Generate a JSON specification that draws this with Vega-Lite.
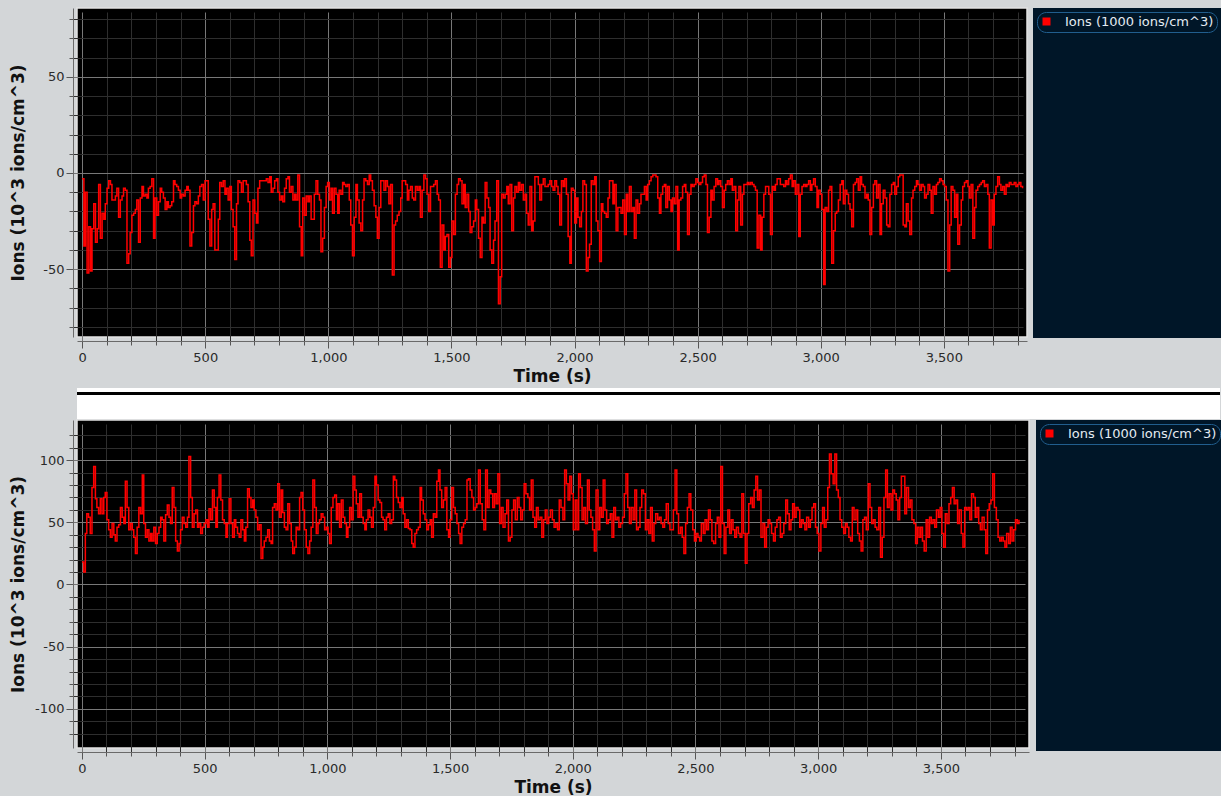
{
"$schema": "https://vega.github.io/schema/vega-lite/v6.json",
"background": "#d3d6d8",
"padding": {"left": 8, "top": 7, "right": 0, "bottom": 0},
"spacing": 0,
"resolve": {"scale": {"color": "independent"}, "legend": {"color": "independent"}},
"config": {
"view": {"stroke": null},
"axis": {"labelFont": "DejaVu Sans", "labelFontSize": 13, "labelColor": "#2a2a2a", "titleFont": "DejaVu Sans", "titleFontSize": 17, "titleFontWeight": "bold", "titleColor": "#111111", "domainColor": "#6a6a6a", "tickColor": "#555555", "offset": 4, "labelPadding": 2, "gridWidth": 1, "labelOverlap": false, "labelFlush": false, "labelBound": false},
"legend": {"title": null, "orient": "top-left", "offset": 4, "padding": 3, "symbolType": "square", "symbolSize": 64, "symbolFillColor": "#ff0000", "symbolStrokeWidth": 0, "symbolOpacity": 1, "labelColor": "#e4ebf2", "labelFont": "DejaVu Sans", "labelFontSize": 13, "labelOffset": 12, "labelLimit": 400, "strokeColor": "#215e8e", "cornerRadius": 9}
},
"datasets": {
"leg": [{"s": "Ions (1000 ions/cm^3)"}],
"top": [
{"t":0,"v":-3},{"t":7,"v":-38},{"t":13,"v":-10},{"t":20,"v":-52},{"t":27,"v":-28},{"t":34,"v":-51},{"t":40,"v":-29},{"t":47,"v":-16},{"t":54,"v":-36},{"t":61,"v":-29},{"t":67,"v":-6},{"t":74,"v":-34},{"t":81,"v":-21},{"t":88,"v":-24},{"t":94,"v":-16},{"t":101,"v":-8},{"t":108,"v":-4},{"t":115,"v":-6},{"t":121,"v":-14},{"t":128,"v":-14},{"t":135,"v":-12},{"t":141,"v":-8},{"t":148,"v":-23},{"t":155,"v":-14},{"t":162,"v":-12},{"t":168,"v":-8},{"t":175,"v":-9},{"t":182,"v":-47},{"t":189,"v":-42},{"t":195,"v":-31},{"t":202,"v":-22},{"t":209,"v":-21},{"t":216,"v":-19},{"t":222,"v":-14},{"t":229,"v":-36},{"t":236,"v":-13},{"t":243,"v":-7},{"t":249,"v":-12},{"t":256,"v":-11},{"t":263,"v":-13},{"t":269,"v":-8},{"t":276,"v":-7},{"t":283,"v":-3},{"t":290,"v":-34},{"t":296,"v":-13},{"t":303,"v":-22},{"t":310,"v":-15},{"t":317,"v":-8},{"t":323,"v":-10},{"t":330,"v":-13},
{"t":337,"v":-19},{"t":344,"v":-15},{"t":350,"v":-18},{"t":357,"v":-17},{"t":364,"v":-15},{"t":371,"v":-4},{"t":377,"v":-6},{"t":384,"v":-7},{"t":391,"v":-9},{"t":398,"v":-13},{"t":404,"v":-11},{"t":411,"v":-12},{"t":418,"v":-9},{"t":425,"v":-7},{"t":431,"v":-9},{"t":438,"v":-38},{"t":445,"v":-31},{"t":452,"v":-17},{"t":458,"v":-15},{"t":465,"v":-16},{"t":472,"v":-12},{"t":478,"v":-7},{"t":485,"v":-6},{"t":492,"v":-14},{"t":499,"v":-4},{"t":505,"v":-4},{"t":512,"v":-24},{"t":519,"v":-38},{"t":526,"v":-19},{"t":532,"v":-16},{"t":539,"v":-40},{"t":546,"v":-40},{"t":553,"v":-24},{"t":559,"v":-5},{"t":566,"v":-7},{"t":573,"v":-4},{"t":580,"v":-11},{"t":586,"v":-8},{"t":593,"v":-14},{"t":600,"v":-7},{"t":606,"v":-19},{"t":613,"v":-28},{"t":620,"v":-45},{"t":627,"v":-16},{"t":633,"v":-4},{"t":640,"v":-5},{"t":647,"v":-10},{"t":654,"v":-4},{"t":660,"v":-4},{"t":667,"v":-6},
{"t":674,"v":-15},{"t":681,"v":-35},{"t":687,"v":-43},{"t":694,"v":-14},{"t":701,"v":-21},{"t":708,"v":-26},{"t":714,"v":-8},{"t":721,"v":-4},{"t":728,"v":-4},{"t":735,"v":-4},{"t":741,"v":-4},{"t":748,"v":-3},{"t":755,"v":-5},{"t":762,"v":-2},{"t":768,"v":-10},{"t":775,"v":-8},{"t":782,"v":-4},{"t":789,"v":-3},{"t":795,"v":-10},{"t":802,"v":-14},{"t":809,"v":-12},{"t":815,"v":-15},{"t":822,"v":-8},{"t":829,"v":-3},{"t":836,"v":-2},{"t":842,"v":-10},{"t":849,"v":-7},{"t":856,"v":-14},{"t":863,"v":-11},{"t":869,"v":-14},{"t":876,"v":-1},{"t":883,"v":-28},{"t":890,"v":-43},{"t":896,"v":-13},{"t":903,"v":-22},{"t":910,"v":-12},{"t":917,"v":-15},{"t":923,"v":-12},{"t":930,"v":-24},{"t":937,"v":-24},{"t":943,"v":-11},{"t":950,"v":-4},{"t":957,"v":-11},{"t":964,"v":-14},{"t":970,"v":-41},{"t":977,"v":-34},{"t":984,"v":-18},{"t":991,"v":-7},{"t":997,"v":-5},{"t":1004,"v":-14},
{"t":1011,"v":-8},{"t":1017,"v":-21},{"t":1024,"v":-8},{"t":1031,"v":-11},{"t":1038,"v":-21},{"t":1044,"v":-9},{"t":1051,"v":-11},{"t":1058,"v":-5},{"t":1064,"v":-6},{"t":1071,"v":-7},{"t":1078,"v":-6},{"t":1085,"v":-14},{"t":1091,"v":-27},{"t":1098,"v":-43},{"t":1105,"v":-23},{"t":1112,"v":-6},{"t":1118,"v":-14},{"t":1125,"v":-26},{"t":1132,"v":-30},{"t":1139,"v":-14},{"t":1145,"v":-3},{"t":1152,"v":-4},{"t":1159,"v":-6},{"t":1166,"v":-1},{"t":1172,"v":-4},{"t":1179,"v":-9},{"t":1186,"v":-17},{"t":1193,"v":-23},{"t":1199,"v":-34},{"t":1206,"v":-18},{"t":1213,"v":-4},{"t":1220,"v":-4},{"t":1226,"v":-9},{"t":1233,"v":-4},{"t":1240,"v":-7},{"t":1246,"v":-16},{"t":1253,"v":-6},{"t":1260,"v":-53},{"t":1267,"v":-27},{"t":1273,"v":-25},{"t":1280,"v":-22},{"t":1287,"v":-20},{"t":1294,"v":-13},{"t":1300,"v":-4},{"t":1307,"v":-4},{"t":1314,"v":-6},{"t":1321,"v":-14},{"t":1327,"v":-9},{"t":1334,"v":-7},{"t":1341,"v":-13},
{"t":1347,"v":-14},{"t":1354,"v":-7},{"t":1361,"v":-9},{"t":1368,"v":-7},{"t":1374,"v":-23},{"t":1381,"v":-9},{"t":1388,"v":-1},{"t":1395,"v":-3},{"t":1401,"v":-11},{"t":1408,"v":-20},{"t":1415,"v":-7},{"t":1421,"v":-7},{"t":1428,"v":-6},{"t":1435,"v":-4},{"t":1442,"v":-11},{"t":1448,"v":-14},{"t":1455,"v":-49},{"t":1462,"v":-27},{"t":1469,"v":-40},{"t":1475,"v":-33},{"t":1482,"v":-32},{"t":1489,"v":-49},{"t":1496,"v":-44},{"t":1502,"v":-25},{"t":1509,"v":-32},{"t":1516,"v":-11},{"t":1523,"v":-6},{"t":1529,"v":-3},{"t":1536,"v":-4},{"t":1543,"v":-16},{"t":1550,"v":-6},{"t":1556,"v":-18},{"t":1563,"v":-11},{"t":1570,"v":-20},{"t":1576,"v":-31},{"t":1583,"v":-28},{"t":1590,"v":-25},{"t":1597,"v":-14},{"t":1603,"v":-19},{"t":1610,"v":-34},{"t":1617,"v":-44},{"t":1624,"v":-23},{"t":1630,"v":-26},{"t":1637,"v":-5},{"t":1644,"v":-13},{"t":1651,"v":-18},{"t":1657,"v":-40},{"t":1664,"v":-47},{"t":1671,"v":-35},{"t":1677,"v":-25},
{"t":1684,"v":-4},{"t":1691,"v":-68},{"t":1698,"v":-54},{"t":1704,"v":-11},{"t":1711,"v":-13},{"t":1718,"v":-11},{"t":1725,"v":-7},{"t":1731,"v":-16},{"t":1738,"v":-6},{"t":1745,"v":-30},{"t":1752,"v":-13},{"t":1758,"v":-7},{"t":1765,"v":-10},{"t":1772,"v":-5},{"t":1778,"v":-9},{"t":1785,"v":-6},{"t":1792,"v":-14},{"t":1799,"v":-11},{"t":1805,"v":-21},{"t":1812,"v":-27},{"t":1819,"v":-7},{"t":1826,"v":-30},{"t":1832,"v":-25},{"t":1839,"v":-2},{"t":1846,"v":-2},{"t":1853,"v":-6},{"t":1859,"v":-14},{"t":1866,"v":-6},{"t":1873,"v":-3},{"t":1880,"v":-7},{"t":1886,"v":-7},{"t":1893,"v":-6},{"t":1900,"v":-4},{"t":1907,"v":-7},{"t":1913,"v":-9},{"t":1920,"v":-4},{"t":1927,"v":-7},{"t":1933,"v":-11},{"t":1940,"v":-27},{"t":1947,"v":-4},{"t":1954,"v":-7},{"t":1960,"v":-3},{"t":1967,"v":-11},{"t":1974,"v":-33},{"t":1981,"v":-47},{"t":1987,"v":-8},{"t":1994,"v":-9},{"t":2001,"v":-26},{"t":2008,"v":-13},{"t":2014,"v":-23},
{"t":2021,"v":-28},{"t":2028,"v":-20},{"t":2034,"v":-4},{"t":2041,"v":-6},{"t":2048,"v":-51},{"t":2055,"v":-44},{"t":2061,"v":-37},{"t":2068,"v":-4},{"t":2075,"v":-6},{"t":2082,"v":-2},{"t":2088,"v":-25},{"t":2095,"v":-30},{"t":2102,"v":-46},{"t":2109,"v":-16},{"t":2115,"v":-20},{"t":2122,"v":-21},{"t":2129,"v":-23},{"t":2136,"v":-13},{"t":2142,"v":-4},{"t":2149,"v":-4},{"t":2156,"v":-16},{"t":2162,"v":-6},{"t":2169,"v":-30},{"t":2176,"v":-18},{"t":2183,"v":-18},{"t":2189,"v":-21},{"t":2196,"v":-14},{"t":2203,"v":-32},{"t":2210,"v":-11},{"t":2216,"v":-20},{"t":2223,"v":-7},{"t":2230,"v":-20},{"t":2237,"v":-18},{"t":2243,"v":-34},{"t":2250,"v":-14},{"t":2257,"v":-21},{"t":2264,"v":-16},{"t":2270,"v":-11},{"t":2277,"v":-11},{"t":2284,"v":-7},{"t":2291,"v":-14},{"t":2297,"v":-6},{"t":2304,"v":-4},{"t":2311,"v":-2},{"t":2318,"v":-1},{"t":2324,"v":-1},{"t":2331,"v":-2},{"t":2338,"v":-13},{"t":2345,"v":-21},{"t":2351,"v":-11},
{"t":2358,"v":-7},{"t":2365,"v":-6},{"t":2371,"v":-18},{"t":2378,"v":-7},{"t":2385,"v":-14},{"t":2392,"v":-20},{"t":2398,"v":-13},{"t":2405,"v":-16},{"t":2412,"v":-7},{"t":2419,"v":-40},{"t":2425,"v":-14},{"t":2432,"v":-13},{"t":2439,"v":-7},{"t":2446,"v":-6},{"t":2452,"v":-10},{"t":2459,"v":-32},{"t":2466,"v":-11},{"t":2473,"v":-6},{"t":2479,"v":-7},{"t":2486,"v":-6},{"t":2493,"v":-3},{"t":2500,"v":-5},{"t":2506,"v":-6},{"t":2513,"v":-5},{"t":2520,"v":-2},{"t":2527,"v":-1},{"t":2534,"v":-6},{"t":2540,"v":-31},{"t":2547,"v":-23},{"t":2554,"v":-9},{"t":2560,"v":-14},{"t":2567,"v":-7},{"t":2574,"v":-3},{"t":2581,"v":-6},{"t":2587,"v":-4},{"t":2594,"v":-7},{"t":2601,"v":-18},{"t":2608,"v":-9},{"t":2614,"v":-6},{"t":2621,"v":-4},{"t":2628,"v":-6},{"t":2635,"v":-3},{"t":2641,"v":-9},{"t":2648,"v":-7},{"t":2655,"v":-30},{"t":2662,"v":-14},{"t":2668,"v":-7},{"t":2675,"v":-27},{"t":2682,"v":-11},{"t":2688,"v":-6},
{"t":2695,"v":-6},{"t":2702,"v":-5},{"t":2708,"v":-6},{"t":2715,"v":-5},{"t":2722,"v":-6},{"t":2729,"v":-7},{"t":2735,"v":-9},{"t":2742,"v":-39},{"t":2749,"v":-22},{"t":2756,"v":-40},{"t":2762,"v":-23},{"t":2769,"v":-11},{"t":2776,"v":-7},{"t":2783,"v":-7},{"t":2789,"v":-11},{"t":2796,"v":-32},{"t":2803,"v":-7},{"t":2810,"v":-9},{"t":2816,"v":-6},{"t":2823,"v":-3},{"t":2830,"v":-3},{"t":2836,"v":-6},{"t":2843,"v":-6},{"t":2850,"v":-7},{"t":2857,"v":-4},{"t":2863,"v":-6},{"t":2870,"v":-3},{"t":2877,"v":-1},{"t":2884,"v":-7},{"t":2890,"v":-4},{"t":2897,"v":-11},{"t":2904,"v":-6},{"t":2911,"v":-33},{"t":2917,"v":-11},{"t":2924,"v":-7},{"t":2931,"v":-6},{"t":2938,"v":-7},{"t":2944,"v":-6},{"t":2951,"v":-4},{"t":2958,"v":-9},{"t":2964,"v":-6},{"t":2971,"v":-3},{"t":2978,"v":-7},{"t":2985,"v":-18},{"t":2991,"v":-9},{"t":2998,"v":-11},{"t":3005,"v":-19},{"t":3012,"v":-58},{"t":3018,"v":-18},{"t":3025,"v":-20},
{"t":3032,"v":-9},{"t":3038,"v":-7},{"t":3045,"v":-47},{"t":3052,"v":-30},{"t":3059,"v":-21},{"t":3065,"v":-20},{"t":3072,"v":-14},{"t":3079,"v":-6},{"t":3086,"v":-4},{"t":3092,"v":-16},{"t":3099,"v":-9},{"t":3106,"v":-11},{"t":3113,"v":-16},{"t":3119,"v":-19},{"t":3126,"v":-28},{"t":3133,"v":-6},{"t":3140,"v":-5},{"t":3146,"v":-3},{"t":3153,"v":-9},{"t":3160,"v":-2},{"t":3166,"v":-6},{"t":3173,"v":-7},{"t":3180,"v":-13},{"t":3187,"v":-11},{"t":3193,"v":-14},{"t":3200,"v":-32},{"t":3207,"v":-18},{"t":3214,"v":-6},{"t":3220,"v":-4},{"t":3227,"v":-13},{"t":3234,"v":-6},{"t":3241,"v":-32},{"t":3247,"v":-16},{"t":3254,"v":-9},{"t":3261,"v":-13},{"t":3268,"v":-27},{"t":3274,"v":-28},{"t":3281,"v":-11},{"t":3288,"v":-6},{"t":3295,"v":-5},{"t":3301,"v":-11},{"t":3308,"v":-7},{"t":3315,"v":-2},{"t":3321,"v":-1},{"t":3328,"v":-1},{"t":3335,"v":-27},{"t":3342,"v":-28},{"t":3348,"v":-16},{"t":3355,"v":-25},{"t":3362,"v":-32},
{"t":3369,"v":-13},{"t":3375,"v":-9},{"t":3382,"v":-7},{"t":3389,"v":-4},{"t":3395,"v":-6},{"t":3402,"v":-9},{"t":3409,"v":-6},{"t":3416,"v":-7},{"t":3422,"v":-13},{"t":3429,"v":-11},{"t":3436,"v":-6},{"t":3443,"v":-9},{"t":3449,"v":-21},{"t":3456,"v":-7},{"t":3463,"v":-11},{"t":3470,"v":-6},{"t":3476,"v":-5},{"t":3483,"v":-3},{"t":3490,"v":-4},{"t":3497,"v":-6},{"t":3503,"v":-7},{"t":3510,"v":-14},{"t":3517,"v":-51},{"t":3524,"v":-27},{"t":3530,"v":-7},{"t":3537,"v":-9},{"t":3544,"v":-23},{"t":3551,"v":-11},{"t":3557,"v":-37},{"t":3564,"v":-27},{"t":3571,"v":-14},{"t":3577,"v":-7},{"t":3584,"v":-5},{"t":3591,"v":-4},{"t":3598,"v":-7},{"t":3604,"v":-13},{"t":3611,"v":-6},{"t":3618,"v":-34},{"t":3625,"v":-18},{"t":3631,"v":-9},{"t":3638,"v":-7},{"t":3645,"v":-6},{"t":3652,"v":-5},{"t":3658,"v":-4},{"t":3665,"v":-7},{"t":3672,"v":-6},{"t":3679,"v":-11},{"t":3685,"v":-39},{"t":3692,"v":-14},{"t":3699,"v":-27},
{"t":3705,"v":-11},{"t":3712,"v":-7},{"t":3719,"v":-2},{"t":3726,"v":-6},{"t":3732,"v":-9},{"t":3739,"v":-7},{"t":3746,"v":-11},{"t":3753,"v":-6},{"t":3759,"v":-7},{"t":3766,"v":-5},{"t":3773,"v":-6},{"t":3779,"v":-6},{"t":3786,"v":-5},{"t":3793,"v":-7},{"t":3800,"v":-6},{"t":3806,"v":-5},{"t":3813,"v":-7},{"t":3820,"v":-8}
],
"bot": [
{"t":0,"v":18},{"t":7,"v":10},{"t":14,"v":41},{"t":20,"v":57},{"t":27,"v":54},{"t":34,"v":41},{"t":41,"v":78},{"t":48,"v":95},{"t":55,"v":69},{"t":61,"v":62},{"t":68,"v":57},{"t":75,"v":69},{"t":82,"v":57},{"t":89,"v":70},{"t":95,"v":74},{"t":102,"v":52},{"t":109,"v":44},{"t":116,"v":38},{"t":123,"v":49},{"t":130,"v":40},{"t":136,"v":35},{"t":143,"v":46},{"t":150,"v":48},{"t":157,"v":62},{"t":164,"v":54},{"t":171,"v":49},{"t":177,"v":83},{"t":184,"v":62},{"t":191,"v":44},{"t":198,"v":49},{"t":205,"v":44},{"t":211,"v":38},{"t":218,"v":25},{"t":225,"v":46},{"t":232,"v":62},{"t":239,"v":57},{"t":246,"v":88},{"t":252,"v":49},{"t":259,"v":38},{"t":266,"v":44},{"t":273,"v":35},{"t":280,"v":41},{"t":286,"v":35},{"t":293,"v":46},{"t":300,"v":33},{"t":307,"v":41},{"t":314,"v":46},{"t":321,"v":54},{"t":327,"v":52},{"t":334,"v":35},
{"t":341,"v":56},{"t":348,"v":64},{"t":355,"v":54},{"t":361,"v":49},{"t":368,"v":78},{"t":375,"v":62},{"t":382,"v":35},{"t":389,"v":27},{"t":396,"v":33},{"t":402,"v":44},{"t":409,"v":54},{"t":416,"v":49},{"t":423,"v":46},{"t":430,"v":54},{"t":436,"v":103},{"t":443,"v":70},{"t":450,"v":46},{"t":457,"v":57},{"t":464,"v":60},{"t":471,"v":46},{"t":477,"v":49},{"t":484,"v":41},{"t":491,"v":46},{"t":498,"v":49},{"t":505,"v":52},{"t":512,"v":46},{"t":518,"v":61},{"t":525,"v":52},{"t":532,"v":76},{"t":539,"v":62},{"t":546,"v":46},{"t":552,"v":70},{"t":559,"v":88},{"t":566,"v":68},{"t":573,"v":52},{"t":580,"v":49},{"t":587,"v":38},{"t":593,"v":49},{"t":600,"v":69},{"t":607,"v":49},{"t":614,"v":38},{"t":621,"v":52},{"t":627,"v":46},{"t":634,"v":41},{"t":641,"v":38},{"t":648,"v":52},{"t":655,"v":44},{"t":662,"v":35},{"t":668,"v":46},{"t":675,"v":77},
{"t":682,"v":70},{"t":689,"v":62},{"t":696,"v":68},{"t":702,"v":60},{"t":709,"v":54},{"t":716,"v":44},{"t":723,"v":48},{"t":730,"v":21},{"t":737,"v":30},{"t":743,"v":35},{"t":750,"v":38},{"t":757,"v":44},{"t":764,"v":35},{"t":771,"v":33},{"t":777,"v":62},{"t":784,"v":65},{"t":791,"v":60},{"t":798,"v":81},{"t":805,"v":54},{"t":812,"v":76},{"t":818,"v":58},{"t":825,"v":46},{"t":832,"v":44},{"t":839,"v":65},{"t":846,"v":49},{"t":853,"v":35},{"t":859,"v":25},{"t":866,"v":30},{"t":873,"v":46},{"t":880,"v":44},{"t":887,"v":70},{"t":893,"v":74},{"t":900,"v":60},{"t":907,"v":44},{"t":914,"v":30},{"t":921,"v":25},{"t":928,"v":35},{"t":934,"v":46},{"t":941,"v":84},{"t":948,"v":62},{"t":955,"v":41},{"t":962,"v":49},{"t":968,"v":52},{"t":975,"v":57},{"t":982,"v":54},{"t":989,"v":44},{"t":996,"v":46},{"t":1003,"v":41},{"t":1009,"v":33},{"t":1016,"v":62},
{"t":1023,"v":70},{"t":1030,"v":72},{"t":1037,"v":52},{"t":1043,"v":65},{"t":1050,"v":46},{"t":1057,"v":68},{"t":1064,"v":54},{"t":1071,"v":49},{"t":1078,"v":38},{"t":1084,"v":46},{"t":1091,"v":62},{"t":1098,"v":52},{"t":1105,"v":87},{"t":1112,"v":76},{"t":1118,"v":65},{"t":1125,"v":54},{"t":1132,"v":73},{"t":1139,"v":54},{"t":1146,"v":49},{"t":1153,"v":44},{"t":1159,"v":52},{"t":1166,"v":60},{"t":1173,"v":54},{"t":1180,"v":46},{"t":1187,"v":62},{"t":1194,"v":87},{"t":1200,"v":80},{"t":1207,"v":68},{"t":1214,"v":66},{"t":1221,"v":54},{"t":1227,"v":52},{"t":1234,"v":44},{"t":1241,"v":54},{"t":1248,"v":57},{"t":1255,"v":49},{"t":1262,"v":52},{"t":1269,"v":87},{"t":1275,"v":84},{"t":1282,"v":70},{"t":1289,"v":66},{"t":1296,"v":62},{"t":1303,"v":70},{"t":1309,"v":57},{"t":1316,"v":46},{"t":1323,"v":52},{"t":1330,"v":45},{"t":1337,"v":44},{"t":1344,"v":33},{"t":1350,"v":30},{"t":1357,"v":41},
{"t":1364,"v":44},{"t":1371,"v":46},{"t":1378,"v":78},{"t":1384,"v":68},{"t":1391,"v":57},{"t":1398,"v":52},{"t":1405,"v":44},{"t":1412,"v":48},{"t":1419,"v":52},{"t":1425,"v":38},{"t":1432,"v":57},{"t":1439,"v":54},{"t":1446,"v":83},{"t":1453,"v":92},{"t":1459,"v":76},{"t":1466,"v":62},{"t":1473,"v":68},{"t":1480,"v":78},{"t":1487,"v":44},{"t":1494,"v":38},{"t":1500,"v":52},{"t":1507,"v":78},{"t":1514,"v":62},{"t":1521,"v":57},{"t":1528,"v":49},{"t":1535,"v":41},{"t":1541,"v":33},{"t":1548,"v":46},{"t":1555,"v":49},{"t":1562,"v":52},{"t":1569,"v":84},{"t":1575,"v":85},{"t":1582,"v":76},{"t":1589,"v":70},{"t":1596,"v":60},{"t":1603,"v":62},
{"t":1609,"v":65},{"t":1616,"v":92},{"t":1623,"v":65},{"t":1631,"v":52},{"t":1638,"v":44},{"t":1645,"v":92},{"t":1652,"v":62},{"t":1659,"v":76},{"t":1666,"v":73},{"t":1674,"v":62},{"t":1681,"v":73},{"t":1688,"v":65},{"t":1695,"v":89},{"t":1702,"v":49},{"t":1709,"v":62},{"t":1716,"v":46},{"t":1724,"v":57},{"t":1731,"v":68},{"t":1738,"v":35},
{"t":1745,"v":38},{"t":1752,"v":60},{"t":1759,"v":68},{"t":1766,"v":52},{"t":1774,"v":70},{"t":1781,"v":62},{"t":1788,"v":52},{"t":1795,"v":60},{"t":1802,"v":81},{"t":1809,"v":73},{"t":1817,"v":70},{"t":1824,"v":60},{"t":1831,"v":84},{"t":1838,"v":54},{"t":1845,"v":46},{"t":1852,"v":62},{"t":1859,"v":52},{"t":1867,"v":54},{"t":1874,"v":38},{"t":1881,"v":52},
{"t":1888,"v":60},{"t":1895,"v":49},{"t":1902,"v":54},{"t":1909,"v":60},{"t":1917,"v":52},{"t":1924,"v":46},{"t":1931,"v":49},{"t":1938,"v":44},{"t":1945,"v":68},{"t":1952,"v":62},{"t":1960,"v":52},{"t":1967,"v":92},{"t":1974,"v":81},{"t":1981,"v":68},{"t":1988,"v":87},{"t":1995,"v":73},{"t":2002,"v":44},{"t":2010,"v":68},{"t":2017,"v":44},{"t":2024,"v":89},
{"t":2031,"v":78},{"t":2038,"v":52},{"t":2045,"v":62},{"t":2052,"v":49},{"t":2060,"v":84},{"t":2067,"v":60},{"t":2074,"v":54},{"t":2081,"v":44},{"t":2088,"v":27},{"t":2095,"v":76},{"t":2103,"v":44},{"t":2110,"v":62},{"t":2117,"v":54},{"t":2124,"v":84},{"t":2131,"v":60},{"t":2138,"v":49},{"t":2145,"v":52},{"t":2153,"v":57},{"t":2160,"v":38},{"t":2167,"v":62},
{"t":2174,"v":52},{"t":2181,"v":54},{"t":2188,"v":46},{"t":2195,"v":49},{"t":2203,"v":54},{"t":2210,"v":73},{"t":2217,"v":89},{"t":2224,"v":62},{"t":2231,"v":49},{"t":2238,"v":62},{"t":2246,"v":52},{"t":2253,"v":76},{"t":2260,"v":44},{"t":2267,"v":46},{"t":2274,"v":62},{"t":2281,"v":76},{"t":2288,"v":73},{"t":2296,"v":44},{"t":2303,"v":52},{"t":2310,"v":41},
{"t":2317,"v":62},{"t":2324,"v":35},{"t":2331,"v":49},{"t":2338,"v":57},{"t":2346,"v":52},{"t":2353,"v":54},{"t":2360,"v":49},{"t":2367,"v":46},{"t":2374,"v":52},{"t":2381,"v":65},{"t":2389,"v":49},{"t":2396,"v":44},{"t":2403,"v":44},{"t":2410,"v":60},{"t":2417,"v":92},{"t":2424,"v":57},{"t":2431,"v":41},{"t":2439,"v":46},{"t":2446,"v":38},{"t":2453,"v":25},
{"t":2460,"v":49},{"t":2467,"v":62},{"t":2474,"v":73},{"t":2481,"v":60},{"t":2489,"v":44},{"t":2496,"v":35},{"t":2503,"v":41},{"t":2510,"v":38},{"t":2517,"v":35},{"t":2524,"v":49},{"t":2532,"v":41},{"t":2539,"v":52},{"t":2546,"v":44},{"t":2553,"v":60},{"t":2560,"v":52},{"t":2567,"v":35},{"t":2574,"v":33},{"t":2582,"v":49},{"t":2589,"v":54},{"t":2596,"v":38},
{"t":2603,"v":95},{"t":2610,"v":49},{"t":2617,"v":25},{"t":2624,"v":46},{"t":2632,"v":60},{"t":2639,"v":41},{"t":2646,"v":52},{"t":2653,"v":44},{"t":2660,"v":38},{"t":2667,"v":46},{"t":2675,"v":41},{"t":2682,"v":38},{"t":2689,"v":73},{"t":2696,"v":41},{"t":2703,"v":17},{"t":2710,"v":41},{"t":2717,"v":65},{"t":2725,"v":70},{"t":2732,"v":62},{"t":2739,"v":76},
{"t":2746,"v":87},{"t":2753,"v":68},{"t":2760,"v":76},{"t":2767,"v":38},{"t":2775,"v":49},{"t":2782,"v":30},{"t":2789,"v":46},{"t":2796,"v":52},{"t":2803,"v":49},{"t":2810,"v":41},{"t":2818,"v":35},{"t":2825,"v":46},{"t":2832,"v":52},{"t":2839,"v":54},{"t":2846,"v":38},{"t":2853,"v":41},{"t":2860,"v":49},{"t":2868,"v":68},{"t":2875,"v":57},{"t":2882,"v":44},
{"t":2889,"v":52},{"t":2896,"v":65},{"t":2903,"v":54},{"t":2910,"v":62},{"t":2918,"v":60},{"t":2925,"v":46},{"t":2932,"v":52},{"t":2939,"v":49},{"t":2946,"v":44},{"t":2953,"v":54},{"t":2961,"v":46},{"t":2968,"v":52},{"t":2975,"v":62},{"t":2982,"v":65},{"t":2989,"v":46},{"t":2996,"v":41},{"t":3003,"v":27},{"t":3011,"v":49},{"t":3018,"v":62},{"t":3025,"v":46},
{"t":3032,"v":52},{"t":3039,"v":78},{"t":3046,"v":105},{"t":3053,"v":89},{"t":3061,"v":81},{"t":3068,"v":105},{"t":3075,"v":76},{"t":3082,"v":70},{"t":3089,"v":52},{"t":3096,"v":46},{"t":3104,"v":41},{"t":3111,"v":49},{"t":3118,"v":46},{"t":3125,"v":38},{"t":3132,"v":35},{"t":3139,"v":62},{"t":3146,"v":52},{"t":3154,"v":60},{"t":3161,"v":41},{"t":3168,"v":35},
{"t":3175,"v":27},{"t":3182,"v":52},{"t":3189,"v":54},{"t":3196,"v":44},{"t":3204,"v":81},{"t":3211,"v":62},{"t":3218,"v":49},{"t":3225,"v":52},{"t":3232,"v":46},{"t":3239,"v":44},{"t":3247,"v":62},{"t":3254,"v":22},{"t":3261,"v":38},{"t":3268,"v":70},{"t":3275,"v":92},{"t":3282,"v":62},{"t":3289,"v":73},{"t":3297,"v":60},{"t":3304,"v":76},{"t":3311,"v":73},
{"t":3318,"v":68},{"t":3325,"v":52},{"t":3332,"v":70},{"t":3339,"v":87},{"t":3346,"v":87},{"t":3353,"v":57},{"t":3360,"v":78},{"t":3368,"v":62},{"t":3375,"v":68},{"t":3382,"v":52},{"t":3390,"v":49},{"t":3397,"v":33},{"t":3404,"v":46},{"t":3411,"v":38},{"t":3418,"v":46},{"t":3425,"v":35},{"t":3432,"v":27},{"t":3440,"v":52},{"t":3447,"v":38},{"t":3454,"v":54},
{"t":3461,"v":49},{"t":3468,"v":52},{"t":3475,"v":46},{"t":3482,"v":60},{"t":3490,"v":54},{"t":3497,"v":62},{"t":3504,"v":41},{"t":3511,"v":30},{"t":3518,"v":57},{"t":3525,"v":49},{"t":3533,"v":65},{"t":3540,"v":70},{"t":3547,"v":78},{"t":3554,"v":65},{"t":3561,"v":68},{"t":3568,"v":49},{"t":3575,"v":60},{"t":3583,"v":41},{"t":3590,"v":30},{"t":3597,"v":62},
{"t":3604,"v":60},{"t":3611,"v":62},{"t":3618,"v":52},{"t":3625,"v":73},{"t":3633,"v":70},{"t":3640,"v":54},{"t":3647,"v":62},{"t":3654,"v":49},{"t":3661,"v":44},{"t":3668,"v":54},{"t":3676,"v":44},{"t":3683,"v":25},{"t":3690,"v":60},{"t":3697,"v":65},{"t":3704,"v":68},{"t":3711,"v":89},{"t":3718,"v":62},{"t":3726,"v":52},{"t":3733,"v":38},{"t":3740,"v":35},
{"t":3747,"v":38},{"t":3754,"v":35},{"t":3761,"v":30},{"t":3768,"v":41},{"t":3776,"v":33},{"t":3783,"v":46},{"t":3790,"v":35},{"t":3797,"v":44},{"t":3804,"v":52},{"t":3811,"v":49},{"t":3818,"v":52}
]
},
"vconcat": [
{"hconcat": [
{"width": 950, "height": 329, "data": {"name": "top"},
 "view": {"fill": "#000000", "stroke": "#e2e2e2", "strokeWidth": 1.5},
 "mark": {"type": "line", "color": "#ff0000", "strokeWidth": 1.5, "interpolate": "step-after", "clip": true},
 "encoding": {
  "x": {"field": "t", "type": "quantitative", "scale": {"domain": [-21, 3838], "nice": false, "zero": false},
   "axis": {"title": "Time (s)", "titlePadding": 4, "labelPadding": 3, "values": [0,100,200,300,400,500,600,700,800,900,1000,1100,1200,1300,1400,1500,1600,1700,1800,1900,2000,2100,2200,2300,2400,2500,2600,2700,2800,2900,3000,3100,3200,3300,3400,3500,3600,3700,3800],
    "labelExpr": "datum.value % 500 === 0 ? format(datum.value, ',') : ''",
    "gridColor": {"condition": {"test": "datum.value % 500 === 0", "value": "#787878"}, "value": "#2e2e2e"},
    "tickSize": {"condition": {"test": "datum.value % 500 === 0", "value": 7}, "value": 4}}},
  "y": {"field": "v", "type": "quantitative", "scale": {"domain": [-85.3, 85.8], "nice": false, "zero": false},
   "axis": {"title": "Ions (10^3 ions/cm^3)", "titlePadding": 15, "values": [-80,-70,-60,-50,-40,-30,-20,-10,0,10,20,30,40,50,60,70,80],
    "labelExpr": "datum.value % 50 === 0 ? replace(format(datum.value, ','), '\u2212', '-') : ''",
    "gridColor": {"condition": {"test": "datum.value % 50 === 0", "value": "#787878"}, "value": "#2e2e2e"},
    "tickSize": {"condition": {"test": "datum.value % 50 === 0", "value": 7}, "value": 4}}}
 }},
{"width": 188, "height": 330, "data": {"name": "leg"},
 "view": {"fill": "#001628", "stroke": null},
 "mark": {"type": "square", "opacity": 0, "filled": true},
 "encoding": {"color": {"field": "s", "type": "nominal", "scale": {"range": ["#ff0000"]}, "legend": {"symbolOpacity": 1}}}}
], "spacing": 5, "resolve": {"scale": {"color": "independent"}, "legend": {"color": "independent"}}},
{"width": 1143, "height": 3, "data": {"values": [{}]}, "mark": {"type": "point", "opacity": 0, "size": 0}, "view": {"fill": null, "stroke": null}},
{"width": 1143, "height": 4, "data": {"values": [{}]}, "mark": {"type": "point", "opacity": 0, "size": 0}, "view": {"fill": "#ffffff", "stroke": null}},
{"width": 1143, "height": 3, "data": {"values": [{}]}, "mark": {"type": "point", "opacity": 0, "size": 0}, "view": {"fill": "#000000", "stroke": null}},
{"width": 1143, "height": 24, "data": {"values": [{}]}, "mark": {"type": "point", "opacity": 0, "size": 0}, "view": {"fill": "#ffffff", "stroke": null}},
{"hconcat": [
{"width": 952, "height": 328, "data": {"name": "bot"},
 "view": {"fill": "#000000", "stroke": "#e2e2e2", "strokeWidth": 1.5},
 "mark": {"type": "line", "color": "#ff0000", "strokeWidth": 1.5, "interpolate": "step-after", "clip": true},
 "encoding": {
  "x": {"field": "t", "type": "quantitative", "scale": {"domain": [-20, 3859], "nice": false, "zero": false},
   "axis": {"title": "Time (s)", "titlePadding": 4, "labelPadding": 3, "values": [0,100,200,300,400,500,600,700,800,900,1000,1100,1200,1300,1400,1500,1600,1700,1800,1900,2000,2100,2200,2300,2400,2500,2600,2700,2800,2900,3000,3100,3200,3300,3400,3500,3600,3700,3800],
    "labelExpr": "datum.value % 500 === 0 ? format(datum.value, ',') : ''",
    "gridColor": {"condition": {"test": "datum.value % 500 === 0", "value": "#787878"}, "value": "#2e2e2e"},
    "tickSize": {"condition": {"test": "datum.value % 500 === 0", "value": 7}, "value": 4}}},
  "y": {"field": "v", "type": "quantitative", "scale": {"domain": [-131.5, 132.3], "nice": false, "zero": false},
   "axis": {"title": "Ions (10^3 ions/cm^3)", "titlePadding": 7, "values": [-120,-110,-100,-90,-80,-70,-60,-50,-40,-30,-20,-10,0,10,20,30,40,50,60,70,80,90,100,110,120],
    "labelExpr": "datum.value % 50 === 0 ? replace(format(datum.value, ','), '\u2212', '-') : ''",
    "gridColor": {"condition": {"test": "datum.value % 50 === 0", "value": "#787878"}, "value": "#2e2e2e"},
    "tickSize": {"condition": {"test": "datum.value % 50 === 0", "value": 7}, "value": 4}}}
 }},
{"width": 185, "height": 331, "data": {"name": "leg"},
 "view": {"fill": "#001628", "stroke": null},
 "mark": {"type": "square", "opacity": 0, "filled": true},
 "encoding": {"color": {"field": "s", "type": "nominal", "scale": {"range": ["#ff0000"]}, "legend": {"symbolOpacity": 1}}}}
], "spacing": 6, "resolve": {"scale": {"color": "independent"}, "legend": {"color": "independent"}}}
]
}
